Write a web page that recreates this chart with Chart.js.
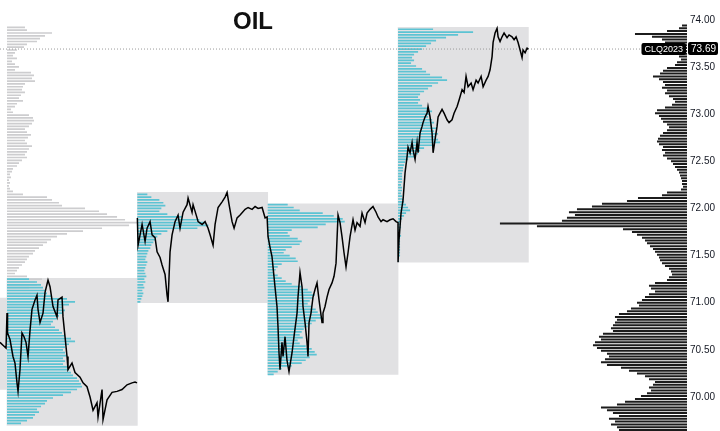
<!DOCTYPE html>
<html>
<head>
<meta charset="utf-8">
<script src="https://cdn.jsdelivr.net/npm/chart.js@4.4.1/dist/chart.umd.min.js"></script>
<style>
  html, body { margin: 0; padding: 0; background: #fff; }
  #wrap { width: 720px; height: 431px; }
</style>
</head>
<body>
<div id="wrap"><canvas id="oilChart"></canvas></div>
<script>
// Tiempo en horas desde la apertura de la primera sesión visible (24 h por sesión)
const X_MIN = -1.29;
const X_MAX = 125.2;
const LAST_PRICE = 73.69;
const SYMBOL = "CLQ2023";

// Cajas de sesión: inicio, mínimo, máximo
const sessionStarts = [-24, 0, 24, 48, 72];
const sessionLows = [70.08, 69.70, 71.00, 70.24, 71.43];
const sessionHighs = [71.05, 71.26, 72.17, 72.05, 73.92];

// Precio [hora dentro de la sesión, precio]
const pricePre = [[-1.29, 70.58], [-0.74, 70.55], [-0.18, 70.52]];
const price0 = [[0.0,70.89],[0.1,70.68],[0.55,70.61],[1.1,70.43],[1.47,70.36],[1.84,70.15],[2.03,70.06],[2.39,70.29],[2.76,70.68],[3.13,70.64],[3.5,70.58],[3.87,70.43],[4.24,70.71],[4.6,70.93],[5.16,71.03],[5.52,71.08],[5.71,70.93],[6.08,70.79],[6.63,70.89],[7.0,71.11],[7.55,71.24],[7.92,71.17],[8.47,70.96],[9.21,70.85],[9.39,71.03],[10.13,71.06],[10.31,70.85],[10.68,70.64],[11.05,70.43],[11.23,70.29],[11.97,70.36],[12.52,70.26],[13.44,70.21],[14.0,70.15],[14.73,70.11],[15.29,70.00],[15.84,69.86],[16.57,69.94],[16.76,69.79],[17.5,70.08],[17.68,69.76],[18.42,69.97],[19.34,70.05],[20.26,70.06],[21.18,70.08],[22.1,70.13],[23.02,70.15],[23.57,70.16],[23.94,70.15]];
const price1 = [[0.0,71.90],[0.13,71.61],[0.5,71.72],[0.87,71.83],[1.42,71.65],[1.79,71.79],[2.34,71.86],[2.71,71.72],[3.26,71.69],[3.63,71.54],[4.18,71.48],[4.55,71.40],[5.1,71.30],[5.47,71.08],[5.65,71.01],[6.02,71.54],[6.39,71.72],[6.94,71.86],[7.5,71.93],[7.86,71.79],[8.42,71.96],[9.15,72.04],[9.34,72.11],[10.07,71.96],[10.26,72.04],[10.99,71.90],[11.18,71.86],[11.92,71.83],[12.47,71.86],[13.02,71.79],[13.39,71.72],[13.94,71.61],[14.31,71.83],[14.86,72.01],[15.6,72.07],[16.15,72.12],[16.52,72.17],[16.89,72.04],[17.44,71.86],[17.81,71.79],[18.36,71.90],[18.92,71.93],[19.84,71.99],[20.39,72.01],[21.13,71.99],[21.68,72.02],[22.23,72.00],[22.97,72.01],[23.52,71.90],[23.89,71.91]];
const price2 = [[0.06,71.70],[0.42,71.59],[0.79,71.49],[0.98,71.38],[1.34,71.17],[1.71,70.96],[1.9,70.74],[2.08,70.47],[2.27,70.29],[2.63,70.58],[2.82,70.43],[3.19,70.64],[3.55,70.39],[3.92,70.27],[4.48,70.47],[4.84,70.64],[5.4,70.89],[5.58,71.06],[5.95,71.32],[6.32,71.17],[6.5,70.96],[6.87,70.79],[7.24,70.58],[7.42,70.43],[7.61,70.79],[7.97,70.89],[8.34,71.06],[8.71,71.14],[9.08,71.21],[9.45,71.03],[10.0,70.79],[10.18,70.89],[10.55,70.96],[10.92,71.06],[11.29,71.14],[11.84,71.21],[12.21,71.28],[12.58,71.42],[12.76,71.67],[12.95,71.93],[13.32,71.85],[13.68,71.70],[14.05,71.53],[14.42,71.38],[14.79,71.53],[15.16,71.70],[15.71,71.88],[16.08,71.77],[16.45,71.85],[17.0,71.81],[17.37,71.95],[17.92,71.85],[18.29,71.95],[18.84,71.99],[19.39,72.02],[19.95,71.96],[20.31,71.91],[20.87,71.86],[21.24,71.88],[21.97,71.86],[22.53,71.88],[23.08,71.89],[23.63,71.86],[23.99,71.85]];
const price3 = [[0.0,71.43],[0.18,71.67],[0.55,71.95],[0.92,72.09],[1.29,72.38],[1.66,72.55],[1.84,72.65],[2.21,72.59],[2.58,72.70],[2.76,72.62],[3.13,72.52],[3.5,72.70],[3.68,72.59],[4.05,72.80],[4.42,72.87],[4.6,72.91],[4.97,72.97],[5.34,73.01],[5.52,73.08],[5.89,72.97],[6.26,72.80],[6.45,72.59],[6.81,72.73],[7.18,72.87],[7.37,72.97],[7.73,73.01],[8.1,73.05],[8.47,73.01],[9.02,72.94],[9.39,72.91],[9.94,72.94],[10.31,73.01],[10.87,73.08],[11.24,73.15],[11.79,73.26],[12.16,73.23],[12.52,73.40],[12.89,73.29],[13.45,73.33],[13.81,73.26],[14.37,73.36],[14.73,73.33],[15.29,73.40],[15.66,73.29],[16.21,73.36],[16.58,73.40],[16.94,73.47],[17.31,73.61],[17.5,73.76],[17.86,73.86],[18.23,73.91],[18.42,73.82],[18.78,73.77],[19.15,73.82],[19.52,73.86],[20.07,73.81],[20.44,73.84],[20.99,73.82],[21.36,73.79],[21.73,73.82],[22.1,73.76],[22.47,73.68],[22.83,73.60],[23.02,73.68],[23.39,73.65],[23.76,73.70],[24.0,73.69]];

// Perfiles de volumen: precio superior y volumen por nivel (paso 0.03)
const LEVEL_STEP = 0.03;
const HOURS_PER_LOT = 24 / 130.3;

const grayTop = 73.92;
const grayVolumes = [18,20,45,38,33,30,20,17,10,8,6,10,5,8,12,8,24,27,25,28,18,16,15,18,14,12,16,10,8,4,6,22,26,27,25,22,18,20,24,21,18,20,25,22,20,18,20,15,12,10,6,5,3,4,2,3,2,3,6,16,40,45,52,55,78,92,100,110,118,130,122,95,76,60,50,44,40,36,32,28,26,22,20,18,15,12,10,8,20,35,28,30,22];

const profileTops = [71.25, 72.15, 72.04, 73.90];
const profileVol0 = [22,30,34,36,38,40,44,60,68,62,56,58,55,52,50,46,44,48,52,55,58,64,68,62,58,56,58,60,56,58,56,60,62,64,66,70,72,74,75,70,64,56,46,40,38,34,30,32,28,26,20,14];
const profileVol1 = [10,14,22,26,28,24,22,30,45,62,68,71,60,30,24,20,18,16,14,13,11,10,9,8,10,9,8,7,8,9,7,8,6,7,5,6,5,4,3];
const profileVol2 = [20,26,32,55,66,75,77,58,50,24,20,22,30,34,32,24,18,16,22,28,30,14,10,8,6,10,14,18,24,34,40,44,47,45,42,40,44,48,50,53,55,48,44,40,36,34,32,35,30,32,38,44,47,49,42,38,34,24,14,10,6];
const profileVol3 = [35,75,60,48,38,33,28,24,20,16,14,16,13,18,24,28,32,44,49,40,34,30,26,22,20,22,20,24,30,34,32,30,34,36,34,38,36,40,38,40,42,36,26,22,20,16,10,7,6,5,5,4,4,4,4,3,4,4,3,4,5,6,8,10,12,8,6,4,3,3,3,2,2,3,2,2,2,2,2,2,2,1,1];

const rightTop = 73.94;
const rightVolumes = [5,8,20,52,35,25,22,25,22,18,12,8,6,10,12,20,24,27,34,28,24,22,25,20,22,18,14,12,15,22,30,32,28,26,24,20,18,20,24,27,29,30,28,24,25,22,24,20,16,14,12,10,8,7,6,5,5,4,6,20,25,49,60,85,95,110,118,112,120,125,187,150,64,55,50,45,42,40,37,34,32,30,28,27,25,22,18,16,15,18,20,32,38,36,32,38,42,45,50,48,56,60,68,72,70,72,74,76,74,84,88,86,92,94,90,86,80,78,82,86,80,66,58,50,42,38,32,34,38,36,40,46,52,62,70,86,80,74,68,78,72,76,70,68];

function sessionLine(start, pairs) {
  return pairs.map(([h, p]) => ({ x: start + h, y: p }));
}

function levelPrice(top, i) {
  return Math.round((top - i * LEVEL_STEP) * 100) / 100;
}

// Cada nivel es un segmento horizontal; el punto null corta la línea
function sessionProfile(top, vols, start) {
  const pts = [];
  vols.forEach((v, i) => {
    const p = levelPrice(top, i);
    const end = start + v * HOURS_PER_LOT;
    pts.push({ x: start, y: p }, { x: end, y: p }, { x: end, y: null });
  });
  return pts;
}

function rightProfile(top, vols) {
  const pts = [];
  vols.forEach((v, i) => {
    const p = levelPrice(top, i);
    pts.push({ x: 0, y: p }, { x: v, y: p }, { x: v, y: null });
  });
  return pts;
}

// Hueco entre la sesión 0 y la 1 (no hay trazo que las una)
const priceData = [].concat(
  sessionLine(0, pricePre),
  sessionLine(0, price0),
  [{ x: 24, y: null }],
  sessionLine(24, price1),
  sessionLine(48, price2),
  sessionLine(72, price3)
);

const tealData = [].concat(
  sessionProfile(profileTops[0], profileVol0, 0),
  sessionProfile(profileTops[1], profileVol1, 24),
  sessionProfile(profileTops[2], profileVol2, 48),
  sessionProfile(profileTops[3], profileVol3, 72)
);

const profileLine = { pointRadius: 0, borderWidth: 1.7, tension: 0, spanGaps: false, fill: false };

const labelsPlugin = {
  id: "labels",
  afterDraw(chart) {
    const { ctx, chartArea } = chart;
    const yPix = chart.scales.y.getPixelForValue(LAST_PRICE);
    ctx.save();
    // Título
    ctx.fillStyle = "#111";
    ctx.font = "bold 24px 'Liberation Sans', Arial, sans-serif";
    ctx.textAlign = "center";
    ctx.textBaseline = "alphabetic";
    ctx.fillText("OIL", 253, 29);

    // Etiqueta del símbolo
    ctx.font = "9px 'Liberation Sans', Arial, sans-serif";
    const symW = ctx.measureText(SYMBOL).width + 6;
    ctx.fillStyle = "#000";
    ctx.beginPath();
    ctx.roundRect(chartArea.right - symW - 1, yPix - 6, symW, 12, 2);
    ctx.fill();
    ctx.fillStyle = "#fff";
    ctx.textBaseline = "middle";
    ctx.fillText(SYMBOL, chartArea.right - 1 - symW / 2, yPix + 0.5);

    // Etiqueta del último precio
    ctx.font = "10px 'Liberation Sans', Arial, sans-serif";
    ctx.fillStyle = "#000";
    ctx.beginPath();
    ctx.roundRect(chartArea.right + 1, yPix - 7, 30, 13, 2);
    ctx.fill();
    ctx.fillStyle = "#fff";
    ctx.textAlign = "left";
    ctx.fillText(LAST_PRICE.toFixed(2), chartArea.right + 4, yPix);
    ctx.restore();
  }
};

new Chart(document.getElementById("oilChart"), {
  type: "line",
  data: {
    datasets: [
      {
        label: "Precio",
        data: priceData,
        borderColor: "#000",
        borderWidth: 1.5,
        pointRadius: 0,
        tension: 0,
        spanGaps: false,
        order: 0
      },
      {
        label: "Último",
        data: [{ x: X_MIN, y: LAST_PRICE }, { x: X_MAX, y: LAST_PRICE }],
        borderColor: "#9a9a9a",
        borderWidth: 1,
        borderDash: [1, 2],
        pointRadius: 0,
        order: 1
      },
      Object.assign({}, profileLine, {
        label: "Perfil visible",
        data: rightProfile(rightTop, rightVolumes),
        xAxisID: "x2",
        borderColor: "#1c1c1c",
        borderWidth: 2,
        order: 2
      }),
      Object.assign({}, profileLine, {
        label: "Perfil sesión",
        data: tealData,
        borderColor: "#5cc3d3",
        order: 3
      }),
      Object.assign({}, profileLine, {
        label: "Perfil anterior",
        data: sessionProfile(grayTop, grayVolumes, 0),
        borderColor: "#cdcdcf",
        order: 4
      }),
      {
        type: "bar",
        label: "Sesiones",
        data: sessionStarts.map((s, i) => ({ x: s + 12, y: [sessionLows[i], sessionHighs[i]] })),
        backgroundColor: "#e1e1e3",
        borderWidth: 0,
        barPercentage: 1,
        categoryPercentage: 1,
        grouped: false,
        order: 5
      }
    ]
  },
  options: {
    responsive: true,
    maintainAspectRatio: false,
    animation: false,
    events: [],
    layout: { padding: 0 },
    plugins: { legend: { display: false }, tooltip: { enabled: false }, title: { display: false } },
    scales: {
      x: {
        type: "linear",
        display: false,
        min: X_MIN,
        max: X_MAX,
        offset: false,
        ticks: { stepSize: 24, includeBounds: false }
      },
      x2: {
        type: "linear",
        display: false,
        reverse: true,
        min: 0,
        max: (X_MAX - X_MIN) / HOURS_PER_LOT,
        offset: false
      },
      y: {
        type: "linear",
        position: "right",
        min: 69.64,
        max: 74.21,
        grid: { display: false, drawTicks: false },
        border: { display: false },
        ticks: {
          stepSize: 0.5,
          includeBounds: false,
          padding: 3,
          color: "#131722",
          font: { family: "'Liberation Sans', Arial, sans-serif", size: 10 },
          callback: (v) => v.toFixed(2)
        },
        afterFit: (scale) => {
          scale.width = 33;
          scale.paddingTop = 0;
          scale.paddingBottom = 0;
        }
      }
    }
  },
  plugins: [labelsPlugin]
});
</script>
</body>
</html>
